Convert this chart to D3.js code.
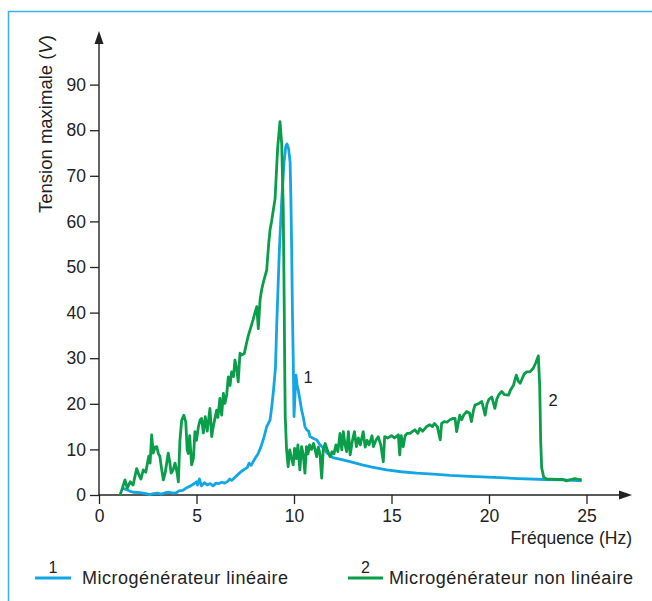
<!DOCTYPE html>
<html><head><meta charset="utf-8">
<script src="https://cdn.jsdelivr.net/npm/d3@7"></script>
<style>
html,body{margin:0;padding:0;background:#fff;}
svg{display:block;font-family:"Liberation Sans",Arial,Helvetica,sans-serif;}
</style></head>
<body>
<svg id="chart" width="652" height="601"></svg>
<script>
// ---- data ----
const seriesNames = ["Microgénérateur linéaire", "Microgénérateur non linéaire"];
const seriesIds = ["1", "2"];
const xTicks = [0, 5, 10, 15, 20, 25];
const yTicks = [0, 10, 20, 30, 40, 50, 60, 70, 80, 90];
const xTitle = "Fréquence (Hz)";

const blueFreq = [1.2,1.4,1.6,1.8,2.1,2.4,2.6,2.8,3.0,3.2,3.4,3.6,3.8,3.98,4.1,4.3,4.5,4.7,4.85,5.0,5.05,5.15,5.25,5.4,5.55,5.7,5.85,6.0,6.15,6.3,6.45,6.6,6.7,6.8,7.0,7.2,7.4,7.6,7.7,7.8,8.0,8.15,8.3,8.45,8.6,8.77,8.85,8.95,9.05,9.12,9.25,9.37,9.49,9.58,9.64,9.72,9.8,9.84,9.88,9.92,9.96,10.0,10.1,10.16,10.22,10.3,10.39,10.48,10.56,10.65,10.75,10.82,11.0,11.16,11.33,11.5,11.7,12.0,12.5,12.87,13.5,14.0,14.75,15.5,16.3,17.15,18.0,19.0,20.56,21.5,22.87,23.8,24.75];
const blueVolt = [1.5,1.2,0.8,0.6,0.5,0.3,0.1,0.3,0.4,0.2,0.5,0.6,0.4,0.5,0.9,1.0,1.6,2.0,2.4,2.9,2.2,3.5,2.0,2.7,2.2,2.5,2.0,2.6,2.5,2.8,2.6,3.0,3.5,3.2,4.0,4.8,5.5,6.0,7.0,6.5,8.0,9.0,10.5,12.5,15,16.4,19,23,28,38,53.7,64.7,73,76.5,77,76,73,65,54,40,30,17.2,26.3,24,23,21,18.6,17,15,14.3,14,12.8,12.4,12.1,11,10.3,9.2,8.2,7.7,7.3,6.6,6.1,5.5,5.1,4.8,4.6,4.3,4.1,3.8,3.6,3.4,3.3,3.1];

const greenFreq = [1.08,1.2,1.33,1.45,1.6,1.75,1.93,2.05,2.15,2.27,2.4,2.55,2.62,2.7,2.78,2.88,2.96,3.05,3.12,3.2,3.3,3.4,3.55,3.62,3.7,3.8,3.9,4.0,4.07,4.15,4.24,4.35,4.45,4.52,4.58,4.65,4.75,4.84,4.92,5.0,5.1,5.18,5.26,5.35,5.45,5.55,5.69,5.78,5.86,6.03,6.1,6.2,6.29,6.38,6.46,6.55,6.63,6.72,6.8,6.9,6.97,7.06,7.14,7.23,7.32,7.45,7.55,7.66,7.8,7.9,8.0,8.09,8.17,8.26,8.34,8.45,8.6,8.7,8.77,8.85,8.94,9.03,9.16,9.28,9.37,9.45,9.5,9.53,9.55,9.62,9.7,9.78,9.85,9.96,10.03,10.12,10.2,10.3,10.39,10.47,10.56,10.64,10.72,10.8,10.9,11.0,11.08,11.16,11.25,11.33,11.42,11.5,11.6,11.7,11.85,11.95,12.05,12.15,12.25,12.36,12.45,12.53,12.62,12.7,12.79,12.88,13.0,13.1,13.2,13.3,13.4,13.55,13.65,13.75,13.85,14.0,14.07,14.2,14.32,14.45,14.58,14.65,14.8,15.0,15.15,15.35,15.42,15.5,15.6,15.7,15.8,15.95,16.1,16.2,16.35,16.46,16.6,16.8,16.97,17.1,17.2,17.35,17.5,17.57,17.7,17.85,18.0,18.17,18.26,18.34,18.5,18.6,18.7,18.85,19.0,19.1,19.2,19.28,19.45,19.63,19.72,19.8,19.9,20.0,20.14,20.3,20.4,20.5,20.65,20.8,21.0,21.1,21.25,21.4,21.5,21.6,21.7,21.8,21.93,22.1,22.27,22.4,22.53,22.6,22.65,22.7,22.8,22.96,23.2,23.5,23.8,23.98,24.2,24.4,24.6,24.75];
const greenVolt = [0,1.5,3.3,1.5,2.9,2.2,5.8,4.4,3.5,5.5,5.0,8.5,7.0,13.2,9.2,10.5,10.6,9.0,8.5,6.0,3.3,5.0,9.2,7.5,4.8,5.5,7.0,5.0,2.9,12,16.4,17.5,16,10,9.1,13,6.6,8,13.9,12,15,16.4,16.8,13.6,17.2,14,19,12.8,15,18.6,17,21.2,17.5,22.3,20.1,22,25.9,24,27,26,29.6,27.8,24.8,31.1,30.7,31,33,35,37,38.4,40,41.3,36.5,42.8,45,47,49.3,55,58.1,60,62.5,65,76,81.9,77,62.5,40.6,25,17.2,9.9,6.2,9.9,8.5,6.6,10.2,8,11,5.5,10.6,9,4.8,10.6,9,11,10,11.3,10,8.4,10.5,9,3.7,9.9,11.3,10,8.4,9.5,9,11,9.5,13.5,9.9,13.9,11,9.5,13.9,8.8,12,13.9,10.6,12.5,11,13.9,10.5,12,11,13,10.6,12,12.8,11,7.3,12.8,12.5,13,12.5,13.2,8.8,13,10.6,13,13.5,13.5,14,14.3,13.5,14.6,14,15,15.4,15,15.7,15,12.1,15.7,16.1,16,16.5,16.8,16.8,13.9,17.5,16.5,17.5,18.3,18,16.1,18.5,19.7,20,20.5,19,17.5,20,21,21.5,19,21,22,22.7,22,21.9,23,24,26.3,25,24.5,25.5,26.5,27,27,27.8,29,30.5,24,12,6,4,3.5,3.5,3.4,3.4,3.1,3.4,3.6,3.4,3.3];

// ---- drawing ----
const svg = d3.select("#chart");
const W = 652, H = 601;
const blue = "#12a7e3", green = "#0a9e4b", ink = "#222";
const x = d3.scaleLinear().domain([0, 25]).range([99, 586.5]);
const y = d3.scaleLinear().domain([0, 90]).range([495, 84.6]);

// frame
svg.append("path").attr("d", `M8.5,${H} L8.5,11.5 L${W},11.5`)
  .attr("fill", "none").attr("stroke", "#3cb0e6").attr("stroke-width", 1.5);

// x axis
const gx = svg.append("g").attr("transform", `translate(0,${y(0)})`)
  .call(d3.axisBottom(x).tickValues(xTicks).tickSize(9).tickSizeOuter(0).tickPadding(6));
gx.select(".domain").remove();
gx.selectAll(".tick line").attr("stroke", ink).attr("stroke-width", 1.3);
gx.selectAll(".tick text").attr("fill", ink).attr("font-size", 17.5).attr("font-family", "Liberation Sans, Arial, sans-serif");

// y axis
const gy = svg.append("g").attr("transform", `translate(${x(0)},0)`)
  .call(d3.axisLeft(y).tickValues(yTicks).tickSize(9).tickSizeOuter(0).tickPadding(4));
gy.select(".domain").remove();
gy.selectAll(".tick line").attr("stroke", ink).attr("stroke-width", 1.3);
gy.selectAll(".tick text").attr("fill", ink).attr("font-size", 17.5).attr("font-family", "Liberation Sans, Arial, sans-serif");

// axis lines with arrows
svg.append("line").attr("x1", x(0)).attr("x2", 622).attr("y1", y(0)).attr("y2", y(0))
  .attr("stroke", ink).attr("stroke-width", 1.4);
svg.append("path").attr("d", `M632,${y(0)} L619,${y(0)-4.5} L619,${y(0)+4.5} Z`).attr("fill", ink);
svg.append("line").attr("x1", x(0)).attr("x2", x(0)).attr("y1", y(0)).attr("y2", 42)
  .attr("stroke", ink).attr("stroke-width", 1.4);
svg.append("path").attr("d", `M${x(0)},31 L${x(0)-4.5},44 L${x(0)+4.5},44 Z`).attr("fill", ink);

// titles
svg.append("text").attr("x", 632).attr("y", 544).attr("text-anchor", "end")
  .attr("font-size", 17.5).attr("fill", ink).text(xTitle);
const yt = svg.append("text").attr("transform", "translate(52,213) rotate(-90)")
  .attr("font-size", 18.5).attr("fill", ink);
yt.append("tspan").text("Tension maximale (");
yt.append("tspan").attr("font-style", "italic").text("V");
yt.append("tspan").text(")");

// lines
const line = d3.line().x(d => x(d[0])).y(d => y(d[1]));
const blueData = blueFreq.map((f, i) => [f, blueVolt[i]]);
const greenData = greenFreq.map((f, i) => [f, greenVolt[i]]);
svg.append("path").datum(blueData).attr("d", line).attr("fill", "none")
  .attr("stroke", blue).attr("stroke-width", 2.8).attr("stroke-linejoin", "round");
svg.append("path").datum(greenData).attr("d", line).attr("fill", "none")
  .attr("stroke", green).attr("stroke-width", 2.8).attr("stroke-linejoin", "round");

// curve labels
svg.append("text").attr("x", 308).attr("y", 383).attr("text-anchor", "middle")
  .attr("font-size", 16.5).attr("fill", ink).text(seriesIds[0]);
svg.append("text").attr("x", 553).attr("y", 406).attr("text-anchor", "middle")
  .attr("font-size", 16.5).attr("fill", ink).text(seriesIds[1]);

// legend
const legend = [
  {x0: 35, x1: 71, tx: 82, w: 206, color: blue},
  {x0: 348, x1: 383, tx: 389, w: 244, color: green}
];
legend.forEach((L, i) => {
  svg.append("line").attr("x1", L.x0).attr("x2", L.x1).attr("y1", 578).attr("y2", 578)
    .attr("stroke", L.color).attr("stroke-width", 3);
  svg.append("text").attr("x", (L.x0 + L.x1) / 2).attr("y", 573).attr("text-anchor", "middle")
    .attr("font-size", 16).attr("fill", ink).text(seriesIds[i]);
  svg.append("text").attr("x", L.tx).attr("y", 584).attr("font-size", 18)
    .attr("textLength", L.w).attr("lengthAdjust", "spacing")
    .attr("fill", ink).text(seriesNames[i]);
});
</script>
</body></html>
